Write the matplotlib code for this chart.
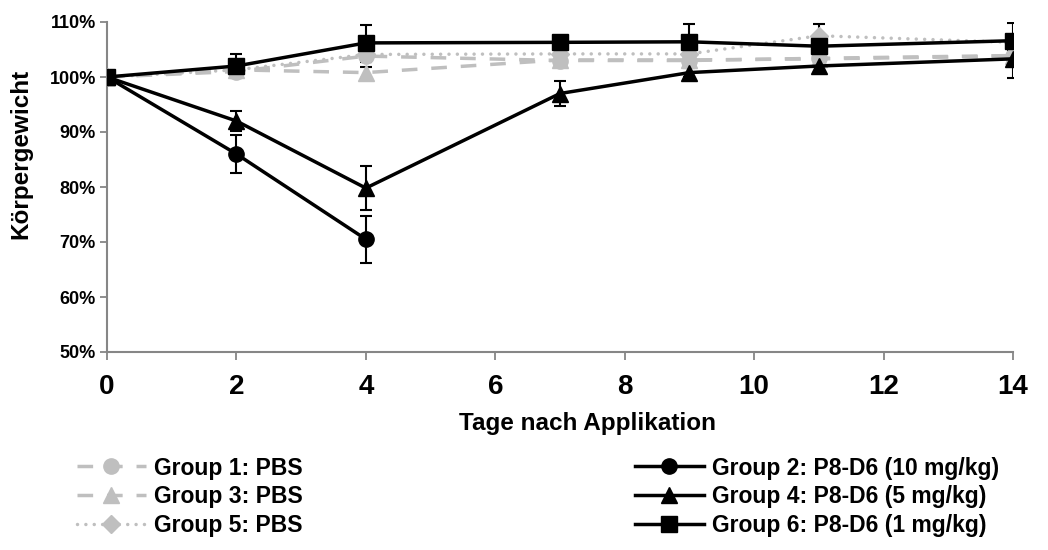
import matplotlib
matplotlib.use("Agg")
import matplotlib.pyplot as plt

plt.rcParams['font.family'] = ['Liberation Sans', 'DejaVu Sans']
plt.rcParams['font.weight'] = 'bold'

# days after application
days = [0, 2, 4, 7, 9, 11, 14]
days_g2 = [0, 2, 4]

# body weight in % of start weight
g1 = [100, 101.0, 103.8, 103.0, 103.0, 103.4, 103.9]
g1_err = [0, 1.0, 1.0, 1.0, 1.0, 1.0, 1.0]
g3 = [100, 101.3, 100.8, 103.1, 103.1, 103.3, 103.8]
g3_err = [0, 1.0, 1.0, 1.0, 1.0, 1.0, 1.0]
g5 = [100, 101.3, 104.1, 104.2, 104.2, 107.5, 106.3]
g5_err = [0, 1.0, 1.0, 1.0, 1.0, 2.2, 1.0]
g2 = [100, 86.0, 70.5]
g2_err = [0, 3.5, 4.3]
g4 = [100, 92.0, 79.8, 97.0, 100.8, 102.0, 103.3]
g4_err = [0, 1.9, 4.0, 2.3, 0.8, 1.0, 3.5]
g6 = [100, 102.0, 106.2, 106.3, 106.4, 105.6, 106.6]
g6_err = [0, 2.2, 3.2, 0.8, 3.2, 0.8, 3.3]

labels_left = ["Group 1: PBS", "Group 3: PBS", "Group 5: PBS"]
labels_right = ["Group 2: P8-D6 (10 mg/kg)", "Group 4: P8-D6 (5 mg/kg)",
                "Group 6: P8-D6 (1 mg/kg)"]

grey = '#BFBFBF'
lw = 2.5
ms = 11

fig = plt.figure(figsize=(10.48, 5.5), dpi=100)
ax = fig.add_axes([0.1021, 0.36, 0.8645, 0.60])

# error bars first, then lines on top
for x, y, e in [(days, g1, g1_err), (days, g3, g3_err), (days, g5, g5_err),
                (days_g2, g2, g2_err), (days, g4, g4_err), (days, g6, g6_err)]:
    ax.errorbar(x, y, yerr=e, fmt='none', ecolor='black', elinewidth=1.5,
                capsize=4.5, capthick=1.5, zorder=2)

dash = (0, (4.5, 4))
dot = (0, (0.01, 2.4))
l1, = ax.plot(days, g1, color=grey, lw=lw, ls=dash, marker='o', ms=ms, zorder=3)
l3, = ax.plot(days, g3, color=grey, lw=lw, ls=dash, marker='^', ms=ms, zorder=3)
l5, = ax.plot(days, g5, color=grey, lw=lw, ls=dot, marker='D', ms=9,
              dash_capstyle='round', zorder=3)
l2, = ax.plot(days_g2, g2, color='black', lw=lw, marker='o', ms=ms, zorder=4)
l4, = ax.plot(days, g4, color='black', lw=lw, marker='^', ms=ms, zorder=4)
l6, = ax.plot(days, g6, color='black', lw=lw, marker='s', ms=ms, zorder=4)

ax.set_xlim(0, 14)
ax.set_ylim(50, 110)
ax.set_xticks(range(0, 15, 2))
ax.set_yticks(range(50, 111, 10))
ax.set_yticklabels([f"{v}%" for v in range(50, 111, 10)])

for s in ['top', 'right']:
    ax.spines[s].set_visible(False)
for s in ['left', 'bottom']:
    ax.spines[s].set_color('#868686')
    ax.spines[s].set_linewidth(1.5)
ax.tick_params(axis='x', direction='out', length=6, width=1.3, color='#868686',
               labelsize=20, pad=10)
ax.tick_params(axis='y', direction='out', length=5, width=1.3, color='#868686',
               labelsize=13, pad=3)
for t in ax.get_xticklabels() + ax.get_yticklabels():
    t.set_fontweight('bold')

ax.set_xlabel("Tage nach Applikation", fontsize=17.5, fontweight='bold')
ax.set_ylabel("Körpergewicht", fontsize=17.5, fontweight='bold')
ax.xaxis.set_label_coords(0.53, -0.183)
ax.yaxis.set_label_coords(-0.082, 0.60)

leg_kw = dict(frameon=False, fontsize=16.5, handlelength=3.0, handletextpad=0.35,
              labelspacing=0.25, borderaxespad=0, borderpad=0)
leg1 = fig.legend([l1, l3, l5], labels_left, loc='upper left',
                  bbox_to_anchor=(0.0735, 0.17), **leg_kw)
leg2 = fig.legend([l2, l4, l6], labels_right, loc='upper left',
                  bbox_to_anchor=(0.606, 0.17), **leg_kw)
for leg in (leg1, leg2):
    for t in leg.get_texts():
        t.set_fontweight('bold')

fig.savefig("out.png", dpi=100)
